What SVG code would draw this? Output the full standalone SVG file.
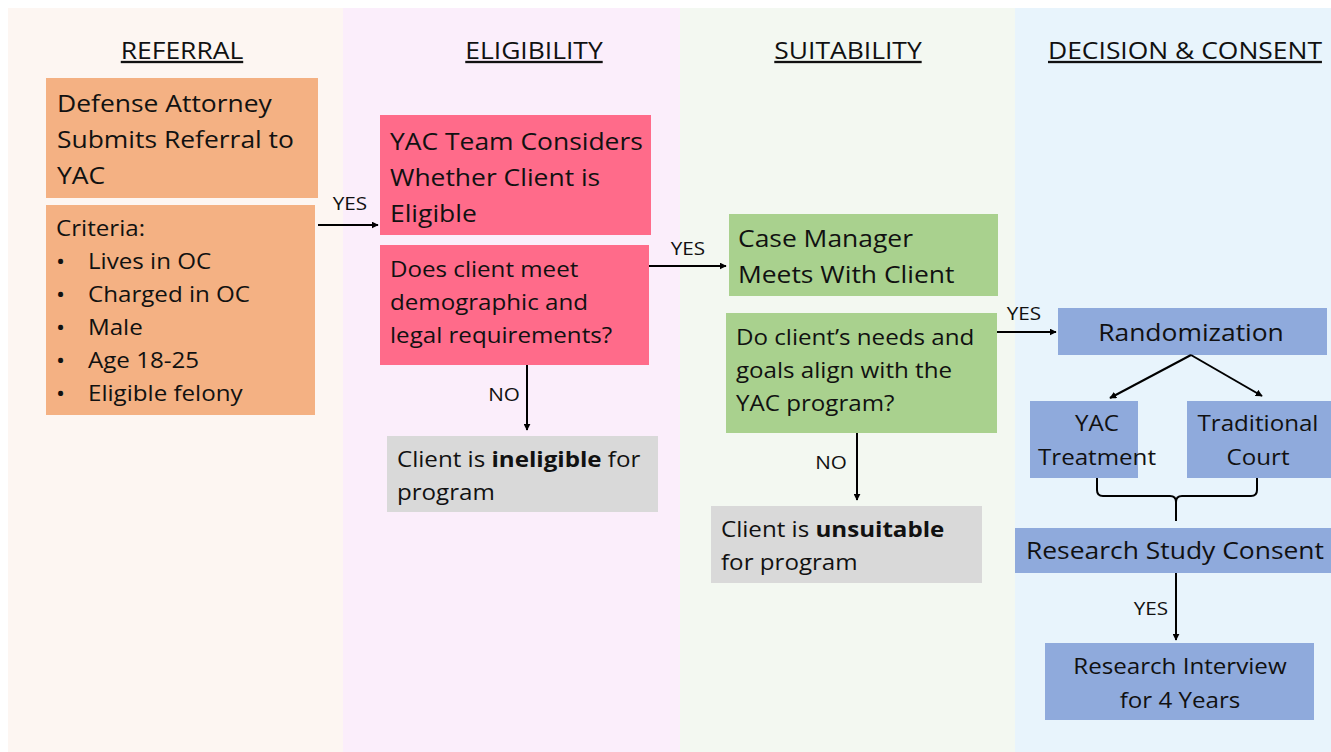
<svg xmlns="http://www.w3.org/2000/svg" width="1331" height="752" viewBox="0 0 1331 752">
  <defs>
    <marker id="arr" viewBox="0 0 10 10" refX="9" refY="5" markerWidth="7" markerHeight="7" markerUnits="userSpaceOnUse" orient="auto">
      <path d="M0,0 L10,5 L0,10 z" fill="#000"/>
    </marker>
    <style>
      text { font-family: "Open Sans", "Liberation Sans", sans-serif; fill: #111111;
             transform-box: fill-box; transform-origin: 0 50%; transform: scaleX(1.15); }
      .hdr { font-size: 23px; text-decoration: underline; text-anchor: middle; transform-origin: 50% 50%; }
      .big { font-size: 23px; }
      .mid { font-size: 21px; }
      .lbl { font-size: 18px; text-anchor: middle; transform-origin: 50% 50%; }
      .c { text-anchor: middle; transform-origin: 50% 50%; }
      .orange { fill: #f4b183; }
      .pink { fill: #ff6b8a; }
      .green { fill: #a9d18e; }
      .gray { fill: #d9d9d9; }
      .blue { fill: #8faadc; }
      .conn { stroke: #000; stroke-width: 2; fill: none; }
    </style>
  </defs>

  <!-- page and phase columns -->
  <rect x="0" y="0" width="1331" height="752" fill="#ffffff"/>
  <rect x="8" y="8" width="335" height="744" fill="#fdf6f2"/>
  <rect x="343" y="8" width="337" height="744" fill="#fbeefb"/>
  <rect x="680" y="8" width="335" height="744" fill="#f3f8f1"/>
  <rect x="1015" y="8" width="316" height="744" fill="#e8f4fc"/>

  <!-- column headings -->
  <text class="hdr" x="182" y="59">REFERRAL</text>
  <text class="hdr" x="534" y="59">ELIGIBILITY</text>
  <text class="hdr" x="848" y="59">SUITABILITY</text>
  <text class="hdr" x="1185" y="59">DECISION &amp; CONSENT</text>

  <!-- referral -->
  <g id="referral">
    <rect class="orange" x="46" y="78" width="272" height="120"/>
    <text class="big" x="57" y="112">Defense Attorney</text>
    <text class="big" x="57" y="148">Submits Referral to</text>
    <text class="big" x="57" y="184">YAC</text>
  </g>
  <g id="criteria">
    <rect class="orange" x="46" y="205" width="269" height="210"/>
    <text class="mid" x="56" y="236">Criteria:</text>
    <text class="mid" x="56" y="269">•</text><text class="mid" x="88" y="269">Lives in OC</text>
    <text class="mid" x="56" y="302">•</text><text class="mid" x="88" y="302">Charged in OC</text>
    <text class="mid" x="56" y="335">•</text><text class="mid" x="88" y="335">Male</text>
    <text class="mid" x="56" y="368">•</text><text class="mid" x="88" y="368">Age 18-25</text>
    <text class="mid" x="56" y="401">•</text><text class="mid" x="88" y="401">Eligible felony</text>
  </g>

  <!-- eligibility -->
  <g id="yac-team">
    <rect class="pink" x="380" y="115" width="271" height="120"/>
    <text class="big" x="390" y="150">YAC Team Considers</text>
    <text class="big" x="390" y="186">Whether Client is</text>
    <text class="big" x="390" y="222">Eligible</text>
  </g>
  <g id="eligible-q">
    <rect class="pink" x="380" y="245" width="269" height="120"/>
    <text class="mid" x="390" y="277">Does client meet</text>
    <text class="mid" x="390" y="310">demographic and</text>
    <text class="mid" x="390" y="343">legal requirements?</text>
  </g>
  <g id="ineligible">
    <rect class="gray" x="387" y="436" width="271" height="76"/>
    <text class="mid" x="397" y="467">Client is <tspan font-weight="bold">ineligible</tspan> for</text>
    <text class="mid" x="397" y="500">program</text>
  </g>

  <!-- suitability -->
  <g id="case-manager">
    <rect class="green" x="729" y="214" width="269" height="82"/>
    <text class="big" x="738" y="247">Case Manager</text>
    <text class="big" x="738" y="283">Meets With Client</text>
  </g>
  <g id="suitable-q">
    <rect class="green" x="726" y="313" width="271" height="120"/>
    <text class="mid" x="736" y="345">Do client’s needs and</text>
    <text class="mid" x="736" y="378">goals align with the</text>
    <text class="mid" x="736" y="411">YAC program?</text>
  </g>
  <g id="unsuitable">
    <rect class="gray" x="711" y="506" width="271" height="77"/>
    <text class="mid" x="721" y="537">Client is <tspan font-weight="bold">unsuitable</tspan></text>
    <text class="mid" x="721" y="570">for program</text>
  </g>

  <!-- decision and consent -->
  <g id="randomization">
    <rect class="blue" x="1058" y="308" width="269" height="47"/>
    <text class="big c" x="1191" y="341">Randomization</text>
  </g>
  <g id="yac-treatment">
    <rect class="blue" x="1030" y="401" width="108" height="77"/>
    <text class="mid c" x="1097" y="431">YAC</text>
    <text class="mid c" x="1097" y="465">Treatment</text>
  </g>
  <g id="traditional-court">
    <rect class="blue" x="1187" y="401" width="144" height="77"/>
    <text class="mid c" x="1258" y="431">Traditional</text>
    <text class="mid c" x="1258" y="465">Court</text>
  </g>
  <g id="consent">
    <rect class="blue" x="1015" y="528" width="316" height="45"/>
    <text class="big c" x="1175" y="559">Research Study Consent</text>
  </g>
  <g id="interview">
    <rect class="blue" x="1045" y="643" width="269" height="77"/>
    <text class="mid c" x="1180" y="674">Research Interview</text>
    <text class="mid c" x="1180" y="708">for 4 Years</text>
  </g>

  <!-- connectors -->
  <g id="connectors">
    <line class="conn" x1="318" y1="225" x2="378" y2="225" marker-end="url(#arr)"/>
    <text class="lbl" x="350" y="210">YES</text>

    <line class="conn" x1="649" y1="266" x2="726" y2="266" marker-end="url(#arr)"/>
    <text class="lbl" x="688" y="255">YES</text>

    <line class="conn" x1="527" y1="365" x2="527" y2="430" marker-end="url(#arr)"/>
    <text class="lbl" x="504" y="401">NO</text>

    <line class="conn" x1="857" y1="433" x2="857" y2="500" marker-end="url(#arr)"/>
    <text class="lbl" x="831" y="469">NO</text>

    <line class="conn" x1="997" y1="332" x2="1056" y2="332" marker-end="url(#arr)"/>
    <text class="lbl" x="1024" y="320">YES</text>

    <line class="conn" x1="1191" y1="355" x2="1110" y2="398" marker-end="url(#arr)"/>
    <line class="conn" x1="1191" y1="355" x2="1262" y2="396" marker-end="url(#arr)"/>

    <!-- brace joining both arms -->
    <path class="conn" d="M1097,478 V490 Q1097,496 1103,496 H1170 Q1176,496 1176,502 M1176,502 Q1176,496 1182,496 H1251 Q1257,496 1257,490 V478"/>
    <line class="conn" x1="1176" y1="500" x2="1176" y2="521" stroke-width="3"/>

    <line class="conn" x1="1176" y1="573" x2="1176" y2="640" marker-end="url(#arr)"/>
    <text class="lbl" x="1151" y="615">YES</text>
  </g>
</svg>
